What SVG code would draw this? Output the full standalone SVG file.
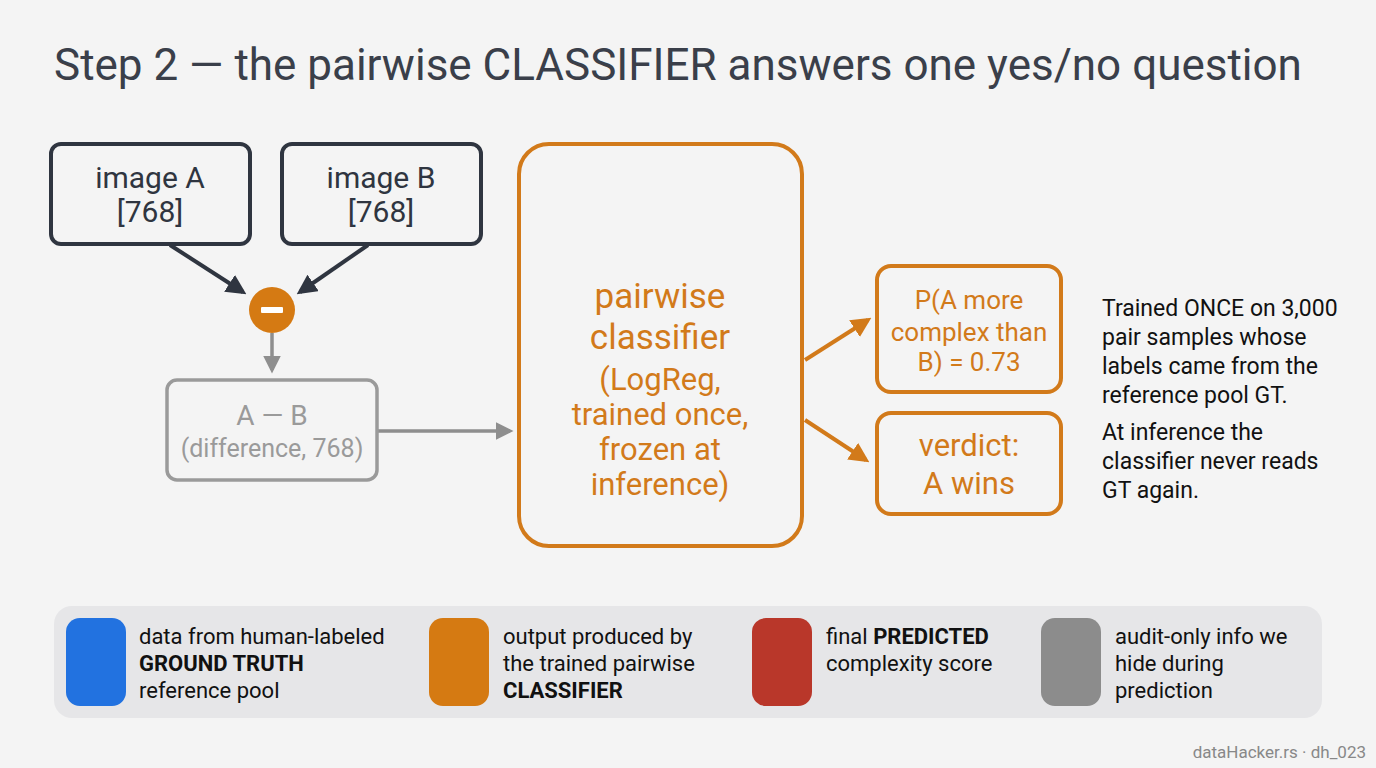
<svg xmlns="http://www.w3.org/2000/svg" width="1376" height="768" viewBox="0 0 1376 768">
<style>
text{font-family:Roboto,"Liberation Sans",sans-serif}
.dark{fill:none;stroke:#2f3540;stroke-width:4}
.gray{fill:none;stroke:#9a9a9a;stroke-width:3.5}
.org{fill:none;stroke:#d27a1a;stroke-width:4}
.td{fill:#2f3540;font-size:30px;text-anchor:middle}
.tg{fill:#9a9a9a;text-anchor:middle}
.to{fill:#d27a1a;text-anchor:middle}
.note{fill:#111;font-size:23px}
.leg{fill:#111;font-size:22px}
</style>
<defs>
<marker id="ad" viewBox="0 0 10 10" refX="8" refY="5" markerWidth="5" markerHeight="5" orient="auto"><path d="M0,0L10,5L0,10z" fill="#2f3540"/></marker>
<marker id="ag" viewBox="0 0 10 10" refX="8" refY="5" markerWidth="5" markerHeight="5" orient="auto"><path d="M0,0L10,5L0,10z" fill="#8e8e8e"/></marker>
<marker id="ao" viewBox="0 0 10 10" refX="8" refY="5" markerWidth="5" markerHeight="5" orient="auto"><path d="M0,0L10,5L0,10z" fill="#d27a1a"/></marker>
</defs>
<rect width="1376" height="768" fill="#f4f4f4"/>
<text x="54" y="80" font-size="44" fill="#3a3f4a">Step 2 — the pairwise CLASSIFIER answers one yes/no question</text>

<g id="connectors">
<line x1="170" y1="245" x2="243" y2="292" stroke="#2f3540" stroke-width="4" marker-end="url(#ad)"/>
<line x1="368" y1="245" x2="300" y2="292" stroke="#2f3540" stroke-width="4" marker-end="url(#ad)"/>
<line x1="272" y1="333" x2="272" y2="370" stroke="#8e8e8e" stroke-width="3.5" marker-end="url(#ag)"/>
<line x1="377" y1="431" x2="510" y2="431" stroke="#8e8e8e" stroke-width="3.5" marker-end="url(#ag)"/>
<line x1="805" y1="360" x2="868" y2="320" stroke="#d27a1a" stroke-width="4" marker-end="url(#ao)"/>
<line x1="805" y1="420" x2="866" y2="460" stroke="#d27a1a" stroke-width="4" marker-end="url(#ao)"/>
</g>

<g id="imageA">
<rect x="51" y="144" width="199" height="100" rx="10" class="dark"/>
<text class="td" x="150" y="188">image A</text>
<text class="td" x="150" y="222">[768]</text>
</g>
<g id="imageB">
<rect x="282" y="144" width="199" height="100" rx="10" class="dark"/>
<text class="td" x="381" y="188">image B</text>
<text class="td" x="381" y="222">[768]</text>
</g>
<g id="minus">
<circle cx="272" cy="310" r="23" fill="#d57a13"/>
<rect x="261" y="307" width="22" height="6" rx="1" fill="#fff"/>
</g>
<g id="diff">
<rect x="167" y="380" width="210" height="100" rx="10" class="gray"/>
<text class="tg" x="272" y="425" font-size="28">A — B</text>
<text class="tg" x="272" y="457" font-size="25">(difference, 768)</text>
</g>
<g id="classifier">
<rect x="519" y="144" width="283" height="402" rx="30" class="org"/>
<text class="to" x="660" y="308" font-size="35">pairwise</text>
<text class="to" x="660" y="349" font-size="35">classifier</text>
<text class="to" x="660" y="390" font-size="31">(LogReg,</text>
<text class="to" x="660" y="425" font-size="31">trained once,</text>
<text class="to" x="660" y="460" font-size="31">frozen at</text>
<text class="to" x="660" y="495" font-size="31">inference)</text>
</g>
<g id="prob">
<rect x="877" y="266" width="184" height="126" rx="14" class="org"/>
<text class="to" x="969" y="309" font-size="26">P(A more</text>
<text class="to" x="969" y="341" font-size="26">complex than</text>
<text class="to" x="969" y="371" font-size="26">B) = 0.73</text>
</g>
<g id="verdict">
<rect x="877" y="413" width="184" height="101" rx="14" class="org"/>
<text class="to" x="969" y="456" font-size="31">verdict:</text>
<text class="to" x="969" y="494" font-size="31">A wins</text>
</g>
<g id="note">
<text class="note" x="1102" y="316">Trained ONCE on 3,000</text>
<text class="note" x="1102" y="345">pair samples whose</text>
<text class="note" x="1102" y="374">labels came from the</text>
<text class="note" x="1102" y="403">reference pool GT.</text>
<text class="note" x="1102" y="440">At inference the</text>
<text class="note" x="1102" y="469">classifier never reads</text>
<text class="note" x="1102" y="498">GT again.</text>
</g>
<g id="legend">
<rect x="54" y="606" width="1268" height="112" rx="18" fill="#e6e6e8"/>
<rect x="66" y="618" width="60" height="88" rx="14" fill="#2272e0"/>
<rect x="429" y="618" width="60" height="88" rx="14" fill="#d57a12"/>
<rect x="752" y="618" width="60" height="88" rx="14" fill="#b9372a"/>
<rect x="1041" y="618" width="60" height="88" rx="14" fill="#8c8c8c"/>
<text class="leg" x="139" y="644">data from human-labeled</text>
<text class="leg" x="139" y="671" font-weight="bold">GROUND TRUTH</text>
<text class="leg" x="139" y="698">reference pool</text>
<text class="leg" x="503" y="644">output produced by</text>
<text class="leg" x="503" y="671">the trained pairwise</text>
<text class="leg" x="503" y="698" font-weight="bold">CLASSIFIER</text>
<text class="leg" x="826" y="644">final <tspan font-weight="bold">PREDICTED</tspan></text>
<text class="leg" x="826" y="671">complexity score</text>
<text class="leg" x="1115" y="644">audit-only info we</text>
<text class="leg" x="1115" y="671">hide during</text>
<text class="leg" x="1115" y="698">prediction</text>
</g>
<text x="1366" y="758" font-size="17" fill="#888" text-anchor="end">dataHacker.rs · dh_023</text>
</svg>
